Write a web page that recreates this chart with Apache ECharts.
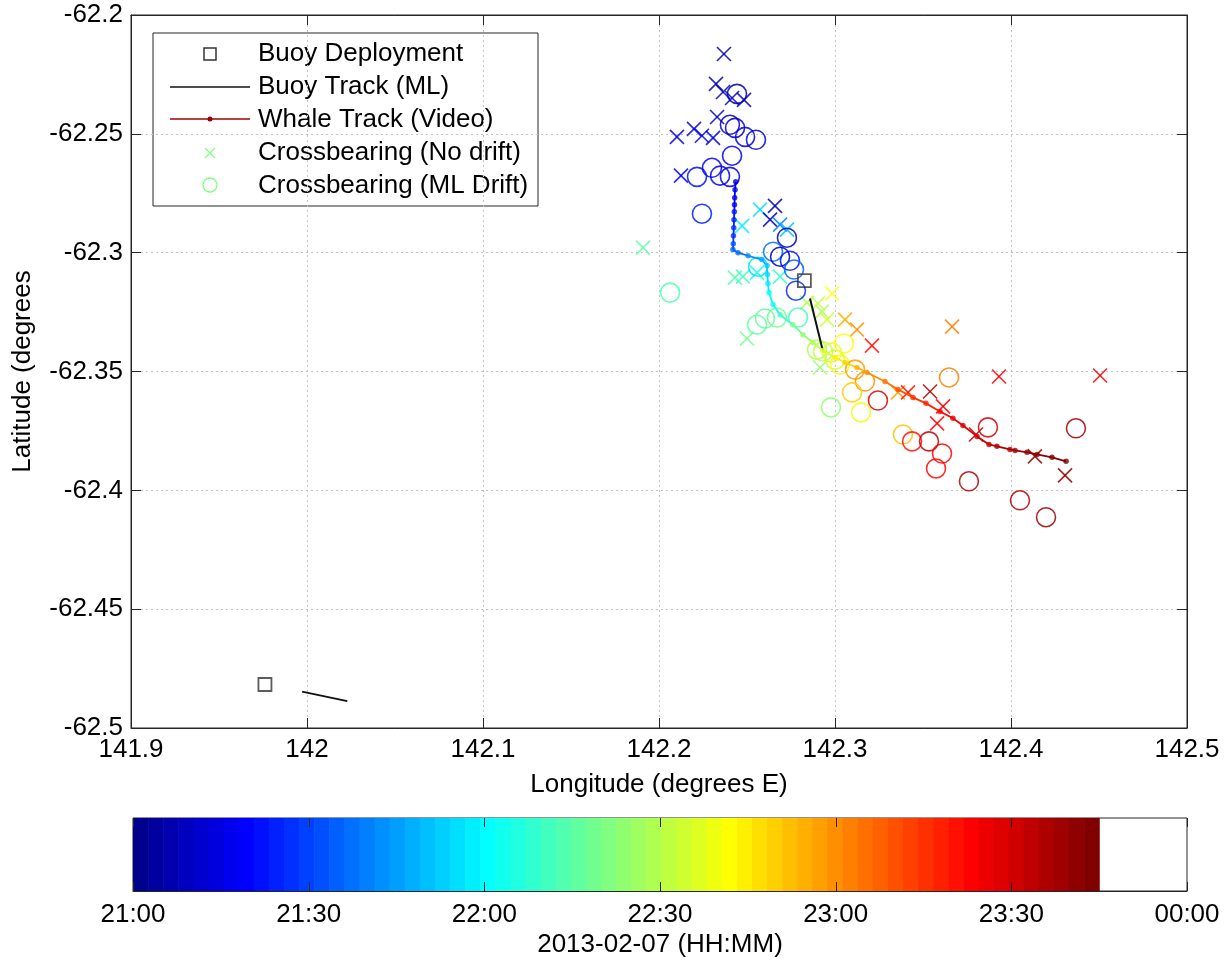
<!DOCTYPE html>
<html><head><meta charset="utf-8">
<script src="https://cdn.jsdelivr.net/npm/echarts@6/dist/echarts.min.js"></script>
<style>html,body{margin:0;padding:0;background:#fff}#c{width:1231px;height:965px}</style>
</head><body><div id="c"></div>
<script>
// ---- tick labels ----
const xTickLabels = ['141.9','142','142.1','142.2','142.3','142.4','142.5'];
const yTickLabels = ['-62.5','-62.45','-62.4','-62.35','-62.3','-62.25','-62.2'];
const cbTickLabels = ['21:00','21:30','22:00','22:30','23:00','23:30','00:00'];
const cbTickStepMin = 30;
// colour axis: minutes after 21:00, colormap spans 21:00..23:45
const cmapSpanMin = 165;

// ---- buoy ----
const buoyDeployLon = [142.2826, 141.9761];
const buoyDeployLat = [-62.3118, -62.4817];
const buoyTrackALon = [142.2858, 142.2932];
const buoyTrackALat = [-62.3193, -62.3416];
const buoyTrackBLon = [141.9972, 142.0229];
const buoyTrackBLat = [-62.4847, -62.4887];

// ---- whale track (video) ----
const whaleLon = [142.2436,142.2432,142.2430,142.2429,142.2428,142.2426,142.2425,142.2423,142.2422,142.2420,142.2449,142.2506,142.2584,142.2614,142.2616,142.2619,142.2625,142.2648,142.2688,142.2761,142.2818,142.2875,142.2932,142.3000,142.3057,142.3125,142.3182,142.3284,142.3358,142.3443,142.3517,142.3597,142.3670,142.3727,142.3807,142.3875,142.3920,142.3994,142.4023,142.4091,142.4148,142.4233,142.4313];
const whaleLat = [-62.2702,-62.2735,-62.2769,-62.2798,-62.2828,-62.2861,-62.2895,-62.2929,-62.2962,-62.2987,-62.3000,-62.3013,-62.3029,-62.3055,-62.3092,-62.3130,-62.3168,-62.3218,-62.3261,-62.3303,-62.3345,-62.3378,-62.3412,-62.3441,-62.3462,-62.3483,-62.3504,-62.3542,-62.3576,-62.3609,-62.3634,-62.3668,-62.3697,-62.3727,-62.3773,-62.3807,-62.3815,-62.3828,-62.3832,-62.3840,-62.3849,-62.3861,-62.3878];
const whaleTime = [14,16,18,20,22,24,26,28,31,34,37,42,47,52,55,57,60,64,70,78,84,90,97,104,110,115,119,125,130,135,139,142,145,147,150,153,155,157,158,160,161,163,165];

// ---- crossbearing (no drift) ----
const crossLon = [142.2369,142.2324,142.2364,142.2415,142.2483,142.2330,142.2102,142.2199,142.2244,142.2307,142.2125,142.2574,142.2659,142.2631,142.2688,142.2727,142.2472,142.1909,142.2432,142.2477,142.2557,142.2688,142.2841,142.2903,142.2926,142.2955,142.2983,142.3057,142.3125,142.3210,142.3665,142.2915,142.2500,142.3932,142.4506,142.3358,142.3415,142.3540,142.3614,142.3580,142.3801,142.4136,142.4307];
const crossLat = [-62.2164,-62.2290,-62.2324,-62.2349,-62.2357,-62.2429,-62.2513,-62.2479,-62.2508,-62.2517,-62.2676,-62.2819,-62.2803,-62.2861,-62.2882,-62.2903,-62.2887,-62.2979,-62.3105,-62.3101,-62.3084,-62.3101,-62.3210,-62.3214,-62.3248,-62.3282,-62.3172,-62.3282,-62.3324,-62.3391,-62.3311,-62.3483,-62.3361,-62.3521,-62.3517,-62.3588,-62.3588,-62.3584,-62.3647,-62.3718,-62.3765,-62.3857,-62.3937];
const crossTime = [6,8,9,10,11,10,17,15,16,18,20,56,8,10,40,50,58,76,74,70,64,68,88,92,90,94,103,114,120,140,122,84,79,142,145,118,141,156,145,143,155,160,161];

// ---- crossbearing (ML drift) ----
const circLon = [142.2443,142.2403,142.2432,142.2489,142.2551,142.2415,142.2216,142.2301,142.2347,142.2403,142.2244,142.2727,142.2648,142.2688,142.2744,142.2563,142.2767,142.2778,142.2063,142.2557,142.2602,142.2670,142.2790,142.2898,142.2932,142.2983,142.3000,142.3028,142.3051,142.3114,142.3170,142.3097,142.2977,142.3148,142.3244,142.3648,142.3386,142.3438,142.3534,142.3608,142.3574,142.3869,142.3761,142.4369,142.4051,142.4199];
const circLat = [-62.2332,-62.2462,-62.2475,-62.2513,-62.2525,-62.2592,-62.2681,-62.2643,-62.2676,-62.2681,-62.2836,-62.2937,-62.2996,-62.3017,-62.3034,-62.3059,-62.3071,-62.3160,-62.3168,-62.3303,-62.3277,-62.3273,-62.3273,-62.3408,-62.3416,-62.3420,-62.3450,-62.3471,-62.3382,-62.3492,-62.3542,-62.3588,-62.3651,-62.3672,-62.3622,-62.3525,-62.3765,-62.3794,-62.3794,-62.3845,-62.3908,-62.3735,-62.3962,-62.3739,-62.4042,-62.4113];
const circTime = [7,10,12,13,14,18,21,19,18,17,25,9,38,10,22,55,35,28,73,75,77,79,70,88,91,96,94,100,103,118,121,109,85,98,148,122,112,141,153,144,142,150,155,158,157,159];

// ---- MATLAB jet(64) colormap ----
function makeJet(m) {
  const n = Math.ceil(m / 4);
  const u = [];
  for (let i = 1; i <= n; i++) u.push(i / n);
  for (let i = 1; i < n; i++) u.push(1);
  for (let i = n; i >= 1; i--) u.push(i / n);
  const off = Math.ceil(n / 2) - (m % 4 === 1 ? 1 : 0);
  const J = [];
  for (let i = 0; i < m; i++) J.push([0, 0, 0]);
  for (let k = 0; k < u.length; k++) {
    const g = off + k + 1, r = g + n, b = g - n;
    if (r >= 1 && r <= m) J[r - 1][0] = u[k];
    if (g >= 1 && g <= m) J[g - 1][1] = u[k];
    if (b >= 1 && b <= m) J[b - 1][2] = u[k];
  }
  return J.map(c => 'rgb(' + c.map(v => Math.round(v * 255)).join(',') + ')');
}
const JET = makeJet(64);
function jetColor(t) {
  let i = Math.floor(t / cmapSpanMin * 64);
  if (i < 0) i = 0; if (i > 63) i = 63;
  return JET[i];
}

const FONT = "'Liberation Sans', Arial, sans-serif";
const FS = 26;
const AX = '#262626';

const chart = echarts.init(document.getElementById('c'), null, {renderer: 'canvas'});

const whaleData = whaleLon.map((x, i) => [x, whaleLat[i], whaleTime[i]]);
const crossData = crossLon.map((x, i) => [x, crossLat[i], crossTime[i]]);
const circData = circLon.map((x, i) => [x, circLat[i], circTime[i]]);
const deployData = buoyDeployLon.map((x, i) => [x, buoyDeployLat[i]]);
const bandData = JET.map((c, i) => [i * cmapSpanMin / 64, (i + 1) * cmapSpanMin / 64, i]);
const cbTickData = cbTickLabels.map((l, i) => [i * cbTickStepMin]);

function idxLabel(arr, min, step) {
  return v => arr[Math.round((v - min) / step)] || '';
}

const mainX = {
  type: 'value', gridIndex: 0, min: 141.9, max: 142.5, interval: 0.1,
  axisLine: {show: true, lineStyle: {color: AX, width: 1}},
  axisTick: {show: true, inside: true, length: 10, lineStyle: {color: AX}},
  axisLabel: {color: '#000', fontSize: FS, fontFamily: FONT, margin: 9, formatter: idxLabel(xTickLabels, 141.9, 0.1)},
  splitLine: {show: true, lineStyle: {color: '#c4c4c4', type: [2, 3], width: 1}},
  name: 'Longitude (degrees E)', nameLocation: 'middle', nameGap: 44,
  nameTextStyle: {color: '#000', fontSize: FS, fontFamily: FONT}
};
const mainY = {
  type: 'value', gridIndex: 0, min: -62.5, max: -62.2, interval: 0.05,
  axisLine: {show: true, onZero: false, lineStyle: {color: AX, width: 1}},
  axisTick: {show: true, inside: true, length: 10, lineStyle: {color: AX}},
  axisLabel: {color: '#000', fontSize: FS, fontFamily: FONT, margin: 8, formatter: idxLabel(yTickLabels, -62.5, 0.05)},
  splitLine: {show: true, lineStyle: {color: '#c4c4c4', type: [2, 3], width: 1}},
  name: 'Latitude (degrees', nameLocation: 'middle', nameGap: 95,
  nameTextStyle: {color: '#000', fontSize: FS, fontFamily: FONT}
};

const option = {
  animation: false,
  backgroundColor: '#fff',
  grid: [
    {left: 131, right: 44, top: 15, height: 713, show: true, borderColor: AX, borderWidth: 1, backgroundColor: '#fff'},
    {left: 133, right: 44, top: 818, height: 73, show: true, borderColor: AX, borderWidth: 1, backgroundColor: '#fff'}
  ],
  xAxis: [
    mainX,
    {type: 'value', gridIndex: 0, position: 'top', min: 141.9, max: 142.5, interval: 0.1,
     axisLine: {show: true, lineStyle: {color: AX}}, axisTick: {show: true, inside: true, length: 10, lineStyle: {color: AX}},
     axisLabel: {show: false}, splitLine: {show: false}},
    {type: 'value', gridIndex: 1, min: 0, max: 180, interval: cbTickStepMin,
     axisLine: {show: true, lineStyle: {color: AX}}, axisTick: {show: false},
     axisLabel: {color: '#000', fontSize: FS, fontFamily: FONT, margin: 11, formatter: idxLabel(cbTickLabels, 0, cbTickStepMin)},
     splitLine: {show: false},
     name: '2013-02-07 (HH:MM)', nameLocation: 'middle', nameGap: 41,
     nameTextStyle: {color: '#000', fontSize: FS, fontFamily: FONT}}
  ],
  yAxis: [
    mainY,
    {type: 'value', gridIndex: 0, position: 'right', min: -62.5, max: -62.2, interval: 0.05,
     axisLine: {show: true, onZero: false, lineStyle: {color: AX}}, axisTick: {show: true, inside: true, length: 10, lineStyle: {color: AX}},
     axisLabel: {show: false}, splitLine: {show: false}},
    {type: 'value', gridIndex: 1, min: 0, max: 1, show: false}
  ],
  series: [
    {
      name: 'Buoy Track (ML) A', type: 'line', xAxisIndex: 0, yAxisIndex: 0,
      data: buoyTrackALon.map((x, i) => [x, buoyTrackALat[i]]),
      showSymbol: false, symbol: 'none', lineStyle: {color: '#111', width: 2}, z: 4, silent: true
    },
    {
      name: 'Buoy Track (ML) B', type: 'line', xAxisIndex: 0, yAxisIndex: 0,
      data: buoyTrackBLon.map((x, i) => [x, buoyTrackBLat[i]]),
      showSymbol: false, symbol: 'none', lineStyle: {color: '#111', width: 2}, z: 4, silent: true
    },
    {
      name: 'Crossbearing (No drift)', type: 'custom', xAxisIndex: 0, yAxisIndex: 0,
      data: crossData, encode: {x: 0, y: 1}, z: 2, silent: true,
      renderItem: (params, api) => {
        const p = api.coord([api.value(0), api.value(1)]);
        const c = jetColor(api.value(2));
        const s = 7;
        return {type: 'group', children: [
          {type: 'line', shape: {x1: p[0] - s, y1: p[1] - s, x2: p[0] + s, y2: p[1] + s}, style: {stroke: c, lineWidth: 1.6, opacity: 0.85}},
          {type: 'line', shape: {x1: p[0] - s, y1: p[1] + s, x2: p[0] + s, y2: p[1] - s}, style: {stroke: c, lineWidth: 1.6, opacity: 0.85}}
        ]};
      }
    },
    {
      name: 'Crossbearing (ML Drift)', type: 'custom', xAxisIndex: 0, yAxisIndex: 0,
      data: circData, encode: {x: 0, y: 1}, z: 3, silent: true,
      renderItem: (params, api) => {
        const p = api.coord([api.value(0), api.value(1)]);
        return {type: 'circle', shape: {cx: p[0], cy: p[1], r: 9.5},
          style: {fill: 'none', stroke: jetColor(api.value(2)), lineWidth: 1.6, opacity: 0.85}};
      }
    },
    {
      name: 'Whale Track (Video) line', type: 'custom', xAxisIndex: 0, yAxisIndex: 0,
      data: whaleData, encode: {x: 0, y: 1}, z: 5, silent: true,
      renderItem: (params, api) => {
        const i = params.dataIndex;
        if (i >= whaleLon.length - 1) return null;
        const p0 = api.coord([api.value(0), api.value(1)]);
        const p1 = api.coord([whaleLon[i + 1], whaleLat[i + 1]]);
        return {type: 'line', shape: {x1: p0[0], y1: p0[1], x2: p1[0], y2: p1[1]},
          style: {stroke: jetColor(api.value(2)), lineWidth: 1.8}};
      }
    },
    {
      name: 'Whale Track (Video)', type: 'scatter', xAxisIndex: 0, yAxisIndex: 0,
      data: whaleData, symbol: 'circle', symbolSize: 5.5, z: 6, silent: true,
      itemStyle: {color: p => jetColor(p.value[2])}
    },
    {
      name: 'Buoy Deployment', type: 'scatter', xAxisIndex: 0, yAxisIndex: 0,
      data: deployData, symbol: 'rect', symbolSize: 13, z: 7, silent: true,
      itemStyle: {color: 'rgba(0,0,0,0)', borderColor: '#333', borderWidth: 1.8}
    },
    {
      name: 'colorbar', type: 'custom', xAxisIndex: 2, yAxisIndex: 2,
      data: bandData, encode: {x: [0, 1]}, silent: true, z: 1,
      renderItem: (params, api) => {
        const a = api.coord([api.value(0), 1]);
        const b = api.coord([api.value(1), 0]);
        return {type: 'rect', shape: {x: a[0], y: a[1], width: b[0] - a[0] + 0.6, height: b[1] - a[1]},
          style: {fill: JET[api.value(2)]}};
      }
    },
    {
      name: 'colorbar ticks', type: 'custom', xAxisIndex: 2, yAxisIndex: 2,
      data: cbTickData, encode: {x: 0}, silent: true, z: 8,
      renderItem: (params, api) => {
        const top = api.coord([api.value(0), 1]);
        const bot = api.coord([api.value(0), 0]);
        const x = Math.round(top[0]) + 0.5;
        return {type: 'group', children: [
          {type: 'line', shape: {x1: x, y1: top[1], x2: x, y2: top[1] + 9}, style: {stroke: AX, lineWidth: 1}},
          {type: 'line', shape: {x1: x, y1: bot[1], x2: x, y2: bot[1] - 9}, style: {stroke: AX, lineWidth: 1}}
        ]};
      }
    }
  ],
  graphic: [{
    type: 'group', z: 100, children: [
      {type: 'rect', shape: {x: 153, y: 33, width: 385, height: 173}, style: {fill: '#fff', stroke: AX, lineWidth: 1}},
      {type: 'rect', shape: {x: 204, y: 48, width: 12, height: 12}, style: {fill: 'none', stroke: '#333', lineWidth: 1.5}},
      {type: 'line', shape: {x1: 170, y1: 87, x2: 250, y2: 87}, style: {stroke: '#111', lineWidth: 1.5}},
      {type: 'line', shape: {x1: 170, y1: 119, x2: 250, y2: 119}, style: {stroke: '#a00000', lineWidth: 1.5}},
      {type: 'circle', shape: {cx: 210, cy: 119, r: 2.5}, style: {fill: '#a00000'}},
      {type: 'line', shape: {x1: 205, y1: 148, x2: 215, y2: 158}, style: {stroke: '#80ff80', lineWidth: 1.3}},
      {type: 'line', shape: {x1: 205, y1: 158, x2: 215, y2: 148}, style: {stroke: '#80ff80', lineWidth: 1.3}},
      {type: 'circle', shape: {cx: 210, cy: 185, r: 7}, style: {fill: 'none', stroke: '#80ff80', lineWidth: 1.3}},
      {type: 'text', x: 258, y: 54, style: {text: 'Buoy Deployment', fill: '#000', font: FS + 'px ' + FONT, verticalAlign: 'middle'}},
      {type: 'text', x: 258, y: 87, style: {text: 'Buoy Track (ML)', fill: '#000', font: FS + 'px ' + FONT, verticalAlign: 'middle'}},
      {type: 'text', x: 258, y: 120, style: {text: 'Whale Track (Video)', fill: '#000', font: FS + 'px ' + FONT, verticalAlign: 'middle'}},
      {type: 'text', x: 258, y: 153, style: {text: 'Crossbearing (No drift)', fill: '#000', font: FS + 'px ' + FONT, verticalAlign: 'middle'}},
      {type: 'text', x: 258, y: 186, style: {text: 'Crossbearing (ML Drift)', fill: '#000', font: FS + 'px ' + FONT, verticalAlign: 'middle'}}
    ]
  }]
};
chart.setOption(option);
</script>
</body></html>
